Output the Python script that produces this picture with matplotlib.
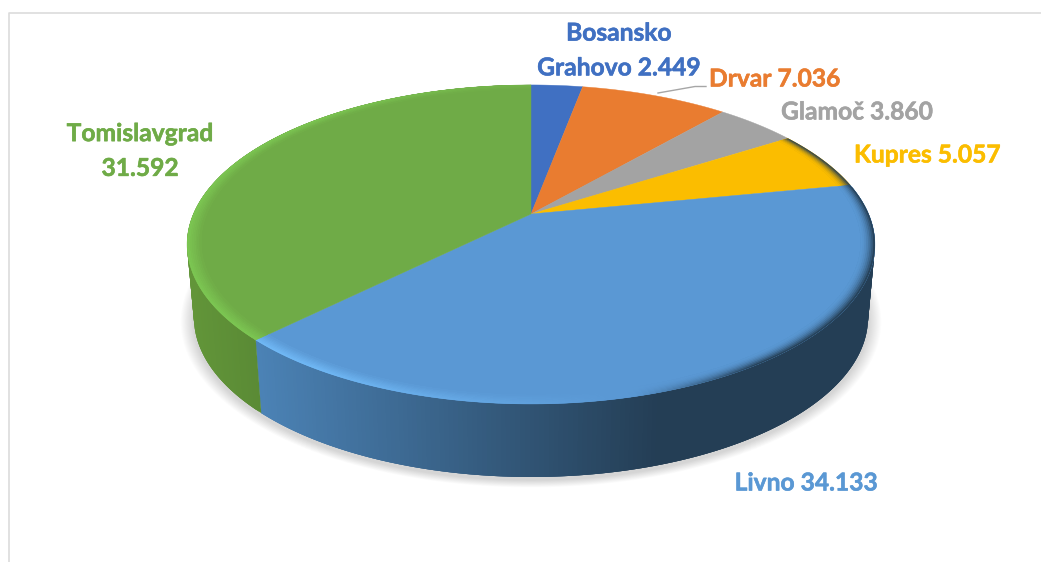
import matplotlib
matplotlib.use('Agg')
import matplotlib.pyplot as plt
import matplotlib.patheffects as pe
import numpy as np
from matplotlib.collections import PolyCollection

names = ['Bosansko\nGrahovo', 'Drvar', 'Glamoč', 'Kupres', 'Livno', 'Tomislavgrad\n']
values = [2.449, 7.036, 3.860, 5.057, 34.133, 31.592]
colors = ['#4070c2', '#e97c30', '#a3a3a3', '#fbbd00', '#5a98d4', '#6fab47']
# wall colour of each slice at the left end and right end of the visible rim
wall_left = {4: '#4b82b5', 5: '#629539'}
wall_right = {4: '#243e55', 5: '#5a8a35'}

label_x = [619, 774.5, 857, 927.5, 806, 140]
label_y = [50.5, 79, 112, 155, 483, 151]

# perspective of the disc
CX, CY, A, B, K = 531, 214, 337.6, 153.7, 0.191
DEPTH = 73
BOTTOM_SCALE = 0.98


def project(theta, r=1.0, bottom=False):
    u = r * np.sin(theta)
    v = r * np.cos(theta)
    w = 1 + K * v
    x = A * u / w
    y = -B * v / w
    if bottom:
        return CX + BOTTOM_SCALE * x, CY + y + DEPTH
    return CX + x, CY + y


def mix(c1, c2, t):
    c1 = np.array(matplotlib.colors.to_rgb(c1))
    c2 = np.array(matplotlib.colors.to_rgb(c2))
    return tuple(c1 + (c2 - c1) * np.clip(t, 0, 1))


fig = plt.figure(figsize=(10.41, 5.62), dpi=100)
ax = fig.add_axes([0, 0, 1, 1])
ax.set_xlim(0, 1041)
ax.set_ylim(562, 0)
ax.axis('off')

# chart frame
ax.plot([9, 9, 1041], [562, 13, 13], color='#dcdcdc', lw=1.2, zorder=1)

edges = np.radians(np.cumsum([0] + values) / sum(values) * 360)

# soft shadow under the disc
t = np.linspace(0, 2 * np.pi, 360)
for i in range(14):
    sx, sy = project(t, bottom=True)
    grow = 1 + (14 - i) * 0.0028
    ax.fill(CX + (sx - CX) * grow, CY + DEPTH + (sy - CY - DEPTH) * grow + 3,
            color='black', alpha=0.012, lw=0, zorder=2)

# side wall, every quad runs under the next one so no seams show
polys, cols = [], []
for i in (4, 5):
    th = np.linspace(edges[i], edges[i + 1], 220)
    for n in range(len(th) - 1):
        a = th[n]
        b = th[min(n + 3, len(th) - 1)]
        x1, y1 = project(a)
        x2, y2 = project(b)
        x3, y3 = project(b, bottom=True)
        x4, y4 = project(a, bottom=True)
        polys.append([(x1, y1), (x2, y2), (x3, y3), (x4, y4)])
        if i == 4:
            f = (x1 - 260) / 400
        else:
            f = (x1 - 190) / 70
        cols.append(mix(wall_left[i], wall_right[i], f))
ax.add_collection(PolyCollection(polys, facecolors=cols, edgecolors='none', zorder=3))

# top face
for i in range(len(values)):
    th = np.linspace(edges[i], edges[i + 1], 200)
    x, y = project(th)
    ax.fill(np.r_[CX, x], np.r_[CY, y], color=colors[i], lw=0.3, zorder=4)

# bevel around the rim, inner rings painted last
polys, cols = [], []
rings = np.linspace(1.0, 0.96, 9)
for i in (3, 4, 5):
    th = np.linspace(edges[i], edges[i + 1], 160)
    for j in range(len(rings) - 1):
        fade = 1 - j / (len(rings) - 1)
        for n in range(len(th) - 1):
            a = th[n]
            b = th[min(n + 2, len(th) - 1)]
            bx, _ = project(a)
            polys.append([project(a, rings[j]), project(b, rings[j]),
                          project(b, rings[min(j + 2, len(rings) - 1)]),
                          project(a, rings[min(j + 2, len(rings) - 1)])])
            # bright on the left, dark on the right
            light = np.clip((620 - bx) / 300, 0, 1)
            dark = np.clip((bx - 640) / 120, 0, 1)
            hi = '#7cc652' if i == 5 else '#70b8f5'
            if dark > 0:
                cols.append(mix(colors[i], '#243e55', dark * fade ** 2 * 0.95))
            else:
                cols.append(mix(colors[i], hi, light * fade))
ax.add_collection(PolyCollection(polys, facecolors=cols, edgecolors='none', zorder=5))

# leader line of Drvar
ax.plot([658, 695, 706], [93, 86.5, 86.5], color='#a6a6a6', lw=1.0, zorder=6)

# labels
for name, val, col, lx, ly in zip(names, values, colors, label_x, label_y):
    sep = '' if name.endswith('\n') else ' '
    txt = ax.text(lx, ly, f'{name}{sep}{val:.3f}', color=col, family='Lato', weight='bold',
                  fontsize=17.7, ha='center', va='center', linespacing=1.62, zorder=7)
    txt.set_path_effects([pe.withStroke(linewidth=0.4, foreground=col)])

fig.savefig('out.png', dpi=100)
